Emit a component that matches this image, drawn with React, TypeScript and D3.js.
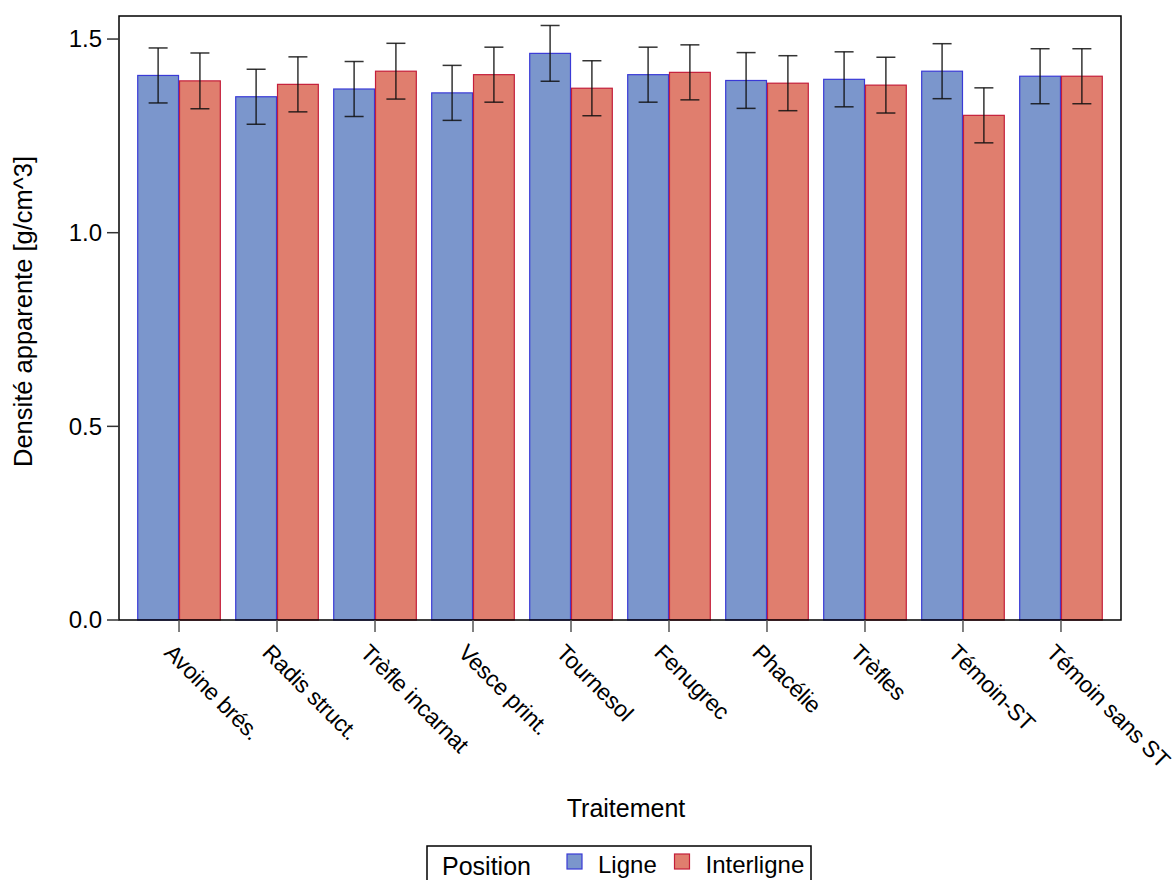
import React from "react";
import * as d3 from "d3";

// Bulk density per treatment, for the two sampling positions
const categories = [
  "Avoine brés.",
  "Radis struct.",
  "Trèfle incarnat",
  "Vesce print.",
  "Tournesol",
  "Fenugrec",
  "Phacélie",
  "Trèfles",
  "Témoin-ST",
  "Témoin sans ST",
];
const positions = ["Ligne", "Interligne"];
const ligne = [1.406, 1.351, 1.371, 1.361, 1.463, 1.408, 1.393, 1.396, 1.417, 1.404];
const interligne = [1.392, 1.383, 1.417, 1.408, 1.373, 1.414, 1.386, 1.381, 1.303, 1.404];
const ligneErr = [0.071, 0.071, 0.071, 0.071, 0.072, 0.071, 0.072, 0.071, 0.071, 0.071];
const interligneErr = [0.072, 0.071, 0.072, 0.071, 0.071, 0.071, 0.071, 0.072, 0.071, 0.071];
const yTicks = [0, 0.5, 1.0, 1.5];

const W = 1174;
const H = 880;
const plot = { left: 119, right: 1121, top: 16, bottom: 620 };
const FONT = "'Liberation Sans', Arial, sans-serif";

const fills: Record<string, string> = { Ligne: "#7b96cc", Interligne: "#e07e6e" };
const strokes: Record<string, string> = { Ligne: "#3a3ad6", Interligne: "#c41e3a" };

export default function App() {
  const x = d3
    .scaleBand<string>()
    .domain(categories)
    .range([plot.left, plot.right])
    .paddingInner(0.147)
    .paddingOuter(0.186);
  const xPos = d3.scaleBand<string>().domain(positions).range([0, x.bandwidth()]);
  const y = d3.scaleLinear().domain([0, 1.5595]).range([plot.bottom, plot.top]);

  const series = [
    { key: "Ligne", values: ligne, errs: ligneErr },
    { key: "Interligne", values: interligne, errs: interligneErr },
  ];
  const capW = 19;

  return (
    <svg
      width={W}
      height={H}
      style={{ position: "absolute", left: 0, top: 0, display: "block", background: "#fff" }}
      fontFamily={FONT}
    >
      {/* bars */}
      {series.map((s) =>
        categories.map((c, i) => {
          const bx = (x(c) ?? 0) + (xPos(s.key) ?? 0);
          const v = s.values[i];
          return (
            <rect
              key={s.key + c}
              x={bx + 0.5}
              y={y(v)}
              width={xPos.bandwidth() - 1}
              height={y(0) - y(v)}
              fill={fills[s.key]}
              stroke={strokes[s.key]}
              strokeWidth={1.2}
            />
          );
        })
      )}
      {/* error bars */}
      {series.map((s) =>
        categories.map((c, i) => {
          const cx = (x(c) ?? 0) + (xPos(s.key) ?? 0) + xPos.bandwidth() / 2;
          const hi = y(s.values[i] + s.errs[i]);
          const lo = y(s.values[i] - s.errs[i]);
          return (
            <g key={"e" + s.key + c} stroke="#111" strokeOpacity={0.85} strokeWidth={1.5}>
              <line x1={cx} x2={cx} y1={hi} y2={lo} />
              <line x1={cx - capW / 2} x2={cx + capW / 2} y1={hi} y2={hi} />
              <line x1={cx - capW / 2} x2={cx + capW / 2} y1={lo} y2={lo} />
            </g>
          );
        })
      )}
      {/* frame */}
      <rect
        x={plot.left}
        y={plot.top}
        width={plot.right - plot.left}
        height={plot.bottom - plot.top}
        fill="none"
        stroke="#000"
        strokeWidth={1.5}
      />
      {/* y axis */}
      {yTicks.map((t) => (
        <g key={"y" + t}>
          <line x1={plot.left - 12} x2={plot.left} y1={y(t)} y2={y(t)} stroke="#333" strokeWidth={1.5} />
          <text x={plot.left - 17} y={y(t)} dy="0.35em" textAnchor="end" fontSize={24} fill="#000">
            {t.toFixed(1)}
          </text>
        </g>
      ))}
      <text
        transform={`translate(32, 311.5) rotate(-90)`}
        textAnchor="middle"
        fontSize={25.5}
        fill="#000"
      >
        Densité apparente [g/cm^3]
      </text>
      {/* x axis */}
      {categories.map((c) => {
        const cx = (x(c) ?? 0) + x.bandwidth() / 2;
        return (
          <g key={"x" + c}>
            <line x1={cx} x2={cx} y1={plot.bottom} y2={plot.bottom + 12} stroke="#555" strokeWidth={1.5} />
            <text
              transform={`translate(${cx - 16}, 654) rotate(45)`}
              textAnchor="start"
              fontSize={23}
              letterSpacing={-0.3}
              fill="#000"
            >
              {c}
            </text>
          </g>
        );
      })}
      <text x={626} y={817} textAnchor="middle" fontSize={25} fill="#000">
        Traitement
      </text>
      {/* legend */}
      <rect x={427} y={846} width={384} height={40} fill="#fff" stroke="#000" strokeWidth={1.5} />
      <text x={442} y={875} fontSize={25} fill="#000">
        Position
      </text>
      {positions.map((p, i) => {
        const lx = [567, 674.5][i];
        return (
          <g key={"l" + p}>
            <rect x={lx} y={854} width={15} height={15} fill={fills[p]} stroke={strokes[p]} strokeWidth={1.2} />
            <text x={lx + 31} y={873} fontSize={24} fill="#000">
              {p}
            </text>
          </g>
        );
      })}
    </svg>
  );
}
